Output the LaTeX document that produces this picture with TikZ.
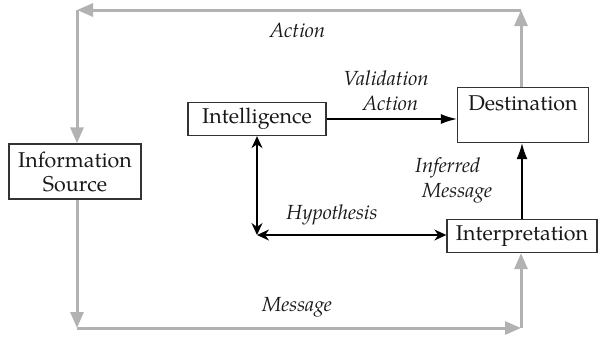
\documentclass[tikz,border=0pt]{standalone}
\usepackage{fontspec}
\setmainfont{TeX Gyre Pagella}
\usetikzlibrary{arrows.meta}
\begin{document}
\begin{tikzpicture}[x=1bp,y=-1bp,
  box/.style={draw=black!80, line width=1.3bp, rectangle, inner sep=0pt,
    font=\fontsize{21.5}{24}\selectfont, align=center, text=black!90},
  flow/.style={draw=black!30, line width=3bp, -{Triangle[length=16bp,width=13bp]}},
  link/.style={draw=black, line width=1.4bp},
  lbl/.style={font=\fontsize{20.5}{25}\selectfont\itshape, align=center, inner sep=0pt, text=black!90}]
\useasboundingbox (0,0) rectangle (598,337);

% boxes
\node[box, minimum width=132bp, minimum height=55bp] (src) at (75,171.5) {Information\\Source};
\node[box, minimum width=138bp, minimum height=33bp] (intel) at (257,119) {Intelligence};
\node[box, minimum width=131bp, minimum height=55bp,
  label={[yshift=12bp, inner sep=0pt, font=\fontsize{21.5}{24}\selectfont, text=black!90]center:Destination}] (dest) at (523,115) {};
\node[box, minimum width=150bp, minimum height=33bp] (interp) at (522,236) {Interpretation};

% corners of the outer loop
\coordinate (tr) at (521,10);
\coordinate (tl) at (77,10);
\coordinate (bl) at (77,328);
\coordinate (br) at (521,328);
\coordinate (hc) at (257,235);

% outer grey loop
\draw[flow] (tr |- dest.north) -- (tr);
\draw[flow] (tr) -- (tl);
\draw[flow] (tl) -- (tl |- src.north);
\draw[flow] (bl |- src.south) -- (bl);
\draw[flow] (bl) -- (br);
\draw[flow] (br) -- (br |- interp.south);

% inner black links
\draw[link, -{Latex[length=16bp,width=10bp]}] (intel.east) -- (dest.west |- intel.east);
\draw[link, -{Latex[length=16bp,width=11bp]}] (interp.north) -- (interp.north |- dest.south);
\draw[link, {Stealth[length=12bp,width=11bp]}-{Stealth[length=12bp,width=11bp]}] (hc) -- (intel.south);
\draw[link, {Stealth[length=12bp,width=11bp]}-{Stealth[length=12bp,width=11bp]}] (hc) -- (interp.west |- hc);

% labels
\node[lbl] (lact) at (297.5,30) {Action};
\node[lbl] (lval) at (386,90.5) {Validation\\\hspace*{9bp}Action};
\node[lbl, align=left, anchor=west] (linf) at (415,180.5) {Inferred\\\hspace*{7bp}Message};
\node[lbl] (lhyp) at (332,215) {Hypothesis};
\node[lbl] (lmsg) at (297,307) {Message};
\end{tikzpicture}
\end{document}
